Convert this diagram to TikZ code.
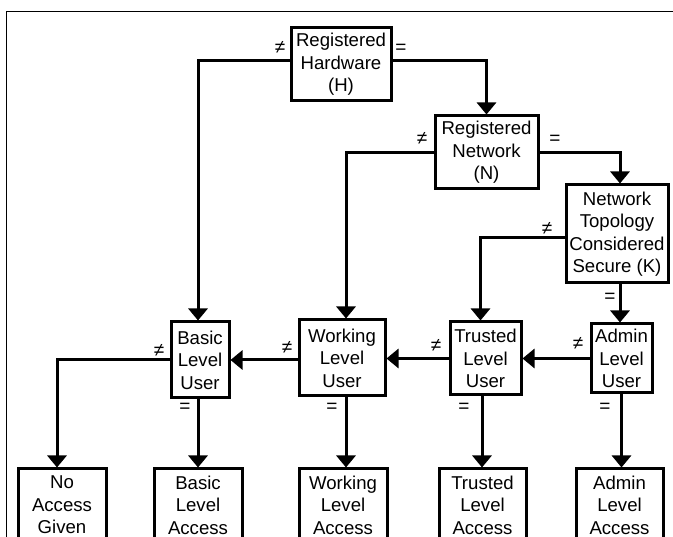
\documentclass[tikz,border=0pt]{standalone}
\usepackage{fontspec}
\setmainfont{Liberation Sans}
\usetikzlibrary{arrows.meta,calc}
\tikzset{
  box/.style={draw=black, line width=3pt, inner sep=0pt, align=center,
    font=\fontsize{18.6}{22.5}\selectfont},
  conn/.style={draw=black, line width=3pt},
  arr/.style={conn, -{Triangle[width=19pt,length=12pt]}},
  lbl/.style={inner sep=0pt, font=\fontsize{19}{21}\selectfont},
  frame/.style={draw=black, line width=0.9pt}
}
\begin{document}
\begin{tikzpicture}[x=1pt,y=-1pt]
\useasboundingbox (0,0) rectangle (673,537);
\clip (0,0) rectangle (673,537);
\draw[frame] (6.5,540) -- (6.5,11) -- (680,11);

% decision boxes
\node[box, minimum width=100pt, minimum height=73pt] (h) at (341,64.5) {Registered\\Hardware\\(H)};
\node[box, minimum width=103pt, minimum height=73pt] (n) at (486.5,152.5) {Registered\\Network\\(N)};
\node[box, minimum width=102pt, minimum height=98pt] (k) at (617,234) {Network\\Topology\\Considered\\Secure (K)};

% user level boxes
\node[box, minimum width=58pt, minimum height=76pt] (bu) at (200,360) {Basic\\Level\\User};
\node[box, minimum width=86pt, minimum height=76pt] (wu) at (342,358) {Working\\Level\\User};
\node[box, minimum width=71pt, minimum height=73pt] (tu) at (485.5,358.5) {Trusted\\Level\\User};
\node[box, minimum width=61pt, minimum height=69pt] (au) at (621.5,358.5) {Admin\\Level\\User};

% access boxes
\node[box, minimum width=88pt, minimum height=72pt] (no) at (62,505) {No\\Access\\Given};
\node[box, minimum width=88pt, minimum height=72pt] (ba) at (198,505) {Basic\\Level\\Access};
\node[box, minimum width=88pt, minimum height=72pt] (wa) at (343,505) {Working\\Level\\Access};
\node[box, minimum width=87pt, minimum height=72pt] (ta) at (482.5,505) {Trusted\\Level\\Access};
\node[box, minimum width=87pt, minimum height=72pt] (aa) at (619.5,505) {Admin\\Level\\Access};

% connectors
\draw[arr] ([yshift=3.5pt]h.west) -| ([xshift=-2pt]bu.north);
\draw[arr] ([yshift=3.5pt]h.east) -| (n.north);
\draw[arr] (n.west) -| ([xshift=4pt]wu.north);
\draw[arr] (n.east) -| ([xshift=3pt]k.north);
\draw[arr] ([yshift=-4pt]k.west) -| ([xshift=-5pt]tu.north);
\draw[arr] ([xshift=3pt]k.south) -- ([xshift=3pt]k.south |- au.north);
\draw[arr] (au.west) -- (au.west -| tu.east);
\draw[arr] (tu.west) -- (tu.west -| wu.east);
\draw[arr] ([yshift=-2pt]wu.west) -- ([yshift=-2pt]wu.west -| bu.east);
\draw[arr] (bu.west) -| ([xshift=-5pt]no.north);
\draw[arr] ([xshift=-2pt]bu.south) -- ([xshift=-2pt]bu.south |- ba.north);
\draw[arr] ([xshift=4pt]wu.south) -- ([xshift=4pt]wu.south |- wa.north);
\draw[arr] ([xshift=-3.5pt]tu.south) -- ([xshift=-3.5pt]tu.south |- ta.north);
\draw[arr] (au.south) -- (au.south |- aa.north);

% labels
\node[lbl] (lh1) at (280,47) {≠};
\node[lbl] (lh2) at (401,49) {=};
\node[lbl] (ln1) at (422,138) {≠};
\node[lbl] (ln2) at (555,140) {=};
\node[lbl] (lk1) at (547,228) {≠};
\node[lbl] (lk2) at (610,298) {=};
\node[lbl] (lb1) at (159,350) {≠};
\node[lbl] (lb2) at (185,408) {=};
\node[lbl] (lw1) at (287,347) {≠};
\node[lbl] (lw2) at (332,408) {=};
\node[lbl] (lt1) at (436,345) {≠};
\node[lbl] (lt2) at (464,408) {=};
\node[lbl] (la1) at (578,343) {≠};
\node[lbl] (la2) at (605,408) {=};
\end{tikzpicture}
\end{document}
